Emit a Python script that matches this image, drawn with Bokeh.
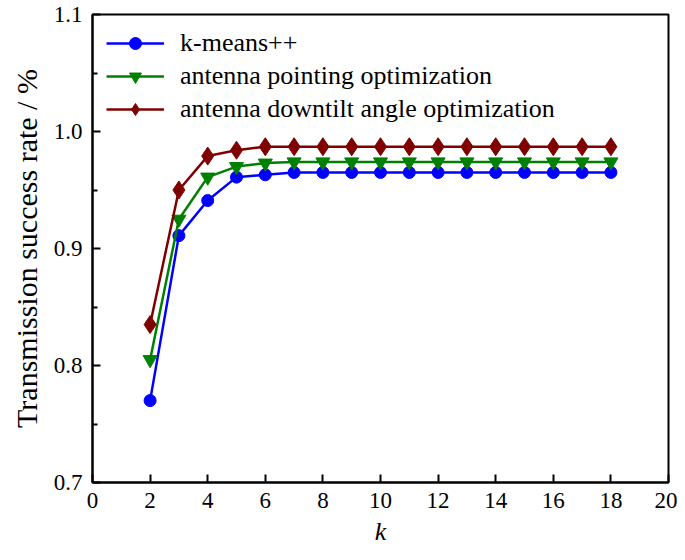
from bokeh.plotting import figure
from bokeh.models import Range1d, FixedTicker, Legend, LegendItem, CustomJSTickFormatter
from bokeh.embed import file_html
from bokeh.resources import INLINE

k = [2, 3, 4, 5, 6, 7, 8, 9, 10, 11, 12, 13, 14, 15, 16, 17, 18]
kmeans = [0.770, 0.911, 0.941, 0.961, 0.963, 0.965, 0.965, 0.965, 0.965, 0.965,
          0.965, 0.965, 0.965, 0.965, 0.965, 0.965, 0.965]
pointing = [0.805, 0.925, 0.961, 0.970, 0.973, 0.974, 0.974, 0.974, 0.974, 0.974,
            0.974, 0.974, 0.974, 0.974, 0.974, 0.974, 0.974]
downtilt = [0.835, 0.950, 0.979, 0.984, 0.987, 0.987, 0.987, 0.987, 0.987, 0.987,
            0.987, 0.987, 0.987, 0.987, 0.987, 0.987, 0.987]
x_ticks = [0, 2, 4, 6, 8, 10, 12, 14, 16, 18, 20]
y_ticks = [0.7, 0.8, 0.9, 1.0, 1.1]
y_minor = [0.75, 0.85, 0.95, 1.05]

FONT = "Liberation Serif"

p = figure(width=677, height=552, output_backend="svg", toolbar_location=None,
           x_range=Range1d(0, 20), y_range=Range1d(0.7, 1.1),
           min_border_left=92, min_border_right=9, min_border_top=14, min_border_bottom=70)
p.grid.visible = False
p.outline_line_color = "black"
p.outline_line_width = 2
p.background_fill_color = "white"
p.border_fill_color = "white"

p.xaxis.ticker = FixedTicker(ticks=x_ticks)
p.yaxis.ticker = FixedTicker(ticks=y_ticks, minor_ticks=y_minor)
p.yaxis.formatter = CustomJSTickFormatter(code="return tick.toFixed(1);")

for ax in (p.xaxis, p.yaxis):
    ax.axis_line_width = 2
    ax.axis_line_color = "black"
    ax.major_tick_in = 8
    ax.major_tick_out = 0
    ax.major_tick_line_width = 2
    ax.major_tick_line_color = "black"
    ax.major_label_text_font = FONT
    ax.major_label_text_font_size = "23px"
    ax.major_label_text_color = "black"
    ax.axis_label_text_font = FONT
    ax.axis_label_text_color = "black"
    ax.axis_label_text_font_style = "normal"

p.yaxis.axis_label_text_font_size = "30px"
p.xaxis.axis_label_text_font_size = "26px"
p.xaxis.minor_tick_line_color = None
p.yaxis.minor_tick_in = 5
p.yaxis.minor_tick_out = 0
p.yaxis.minor_tick_line_width = 2
p.yaxis.minor_tick_line_color = "black"
p.xaxis.major_label_standoff = 10
p.yaxis.major_label_standoff = 10
p.xaxis.axis_label_standoff = 6
p.yaxis.axis_label_standoff = 8

p.xaxis.axis_label = "k"
p.xaxis.axis_label_text_font_style = "italic"
p.yaxis.axis_label = "Transmission success rate / %"

series = [
    (kmeans, "#0000FF", "circle", 12, "k-means++"),
    (pointing, "#008000", "inverted_triangle", 14, "antenna pointing optimization"),
    (downtilt, "#800000", "diamond", 18, "antenna downtilt angle optimization"),
]
items = []
for ys, col, marker, size, label in series:
    l = p.line(k, ys, line_color=col, line_width=2.5)
    m = p.scatter(k, ys, marker=marker, size=size, fill_color=col, line_color=col)
    items.append(LegendItem(label=label, renderers=[l, m]))

legend = Legend(items=items, location="top_left")
legend.border_line_color = None
legend.background_fill_alpha = 0
legend.label_text_font = FONT
legend.label_text_font_size = "26px"
legend.label_text_color = "black"
legend.glyph_width = 58
legend.glyph_height = 30
legend.spacing = 3
legend.margin = 14
legend.padding = 6
legend.label_standoff = 16
legend.label_height = 30
p.add_layout(legend)

open("out.html", "w").write(file_html(p, INLINE))
